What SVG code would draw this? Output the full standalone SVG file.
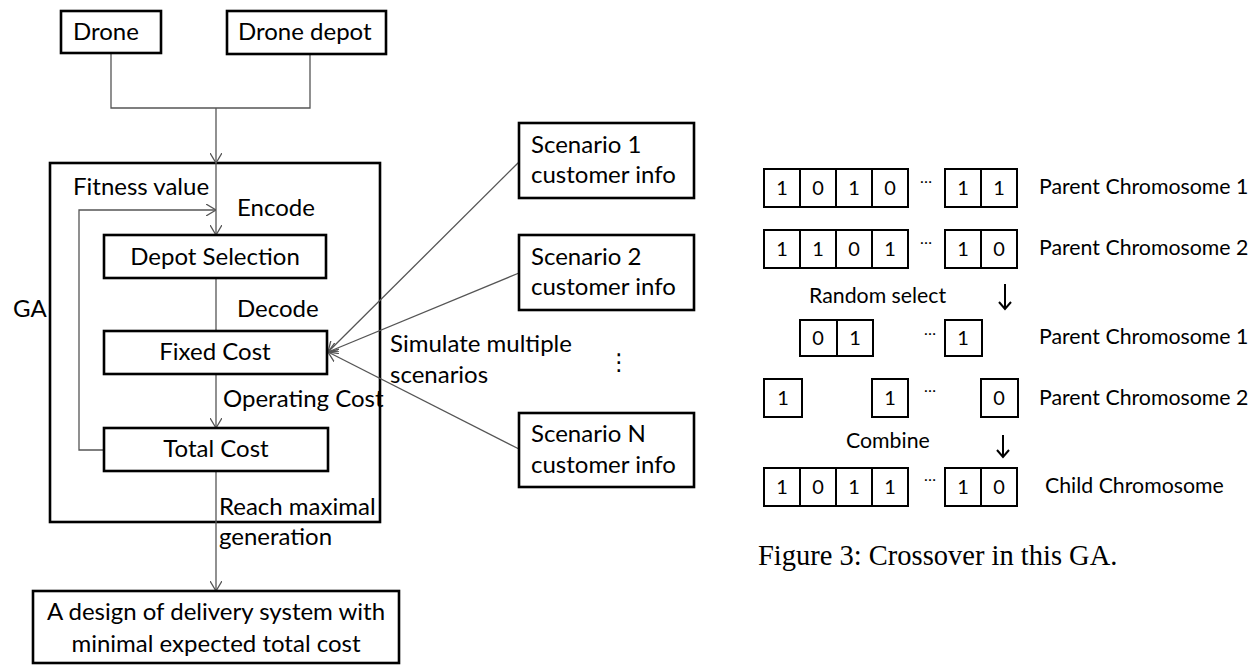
<svg xmlns="http://www.w3.org/2000/svg" width="1254" height="665" viewBox="0 0 1254 665">
  <defs>
    <style>
      .box { fill: #fff; stroke: #000; stroke-width: 2.6; }
      .cell { fill: #fff; stroke: #000; stroke-width: 2; }
      .wire { fill: none; stroke: #555; stroke-width: 1.3; }
      .lbl { font-family: Lato, "Open Sans", sans-serif; font-size: 24px; fill: #000; }
      .mid { text-anchor: middle; }
      .rt { font-family: Lato, "Open Sans", sans-serif; font-size: 21.3px; fill: #000; }
      .bit { font-family: Lato, "Open Sans", sans-serif; font-size: 20px; fill: #000; text-anchor: middle; }
      .dots { font-family: Lato, sans-serif; font-size: 16px; fill: #000; text-anchor: middle; }
      .cap { font-family: "Liberation Serif", serif; font-size: 28.5px; fill: #000; }
      .down { fill: none; stroke: #000; stroke-width: 2; }
    </style>
    <marker id="vhead" markerUnits="userSpaceOnUse" viewBox="0 0 10 12" refX="10" refY="6" markerWidth="10" markerHeight="12" orient="auto">
      <path d="M0,0 L10,6 L0,12" fill="none" stroke="#555" stroke-width="1.3"/>
    </marker>
  </defs>

  <!-- GA container -->
  <g id="ga">
    <rect class="box" x="50" y="163" width="330" height="359" fill="none"/>
    <text class="lbl" x="13" y="317">GA</text>
  </g>

  <!-- connectors -->
  <g id="connectors">
    <path class="wire" d="M111,53 V108 H310 V54"/>
    <path class="wire" d="M216,108 V163" marker-end="url(#vhead)"/>
    <path class="wire" d="M216,163 V235" marker-end="url(#vhead)"/>
    <path class="wire" d="M104,450 H79 V210 H216" marker-end="url(#vhead)"/>
    <path class="wire" d="M216,278 V331"/>
    <path class="wire" d="M216,374 V428" marker-end="url(#vhead)"/>
    <path class="wire" d="M216,471 V591" marker-end="url(#vhead)"/>
    <path class="wire" d="M519,162 L328,352" marker-end="url(#vhead)"/>
    <path class="wire" d="M519,273 L328,352" marker-end="url(#vhead)"/>
    <path class="wire" d="M519,449 L328,352" marker-end="url(#vhead)"/>
  </g>

  <!-- edge labels -->
  <g id="edge-labels">
    <text class="lbl" x="73" y="195">Fitness value</text>
    <text class="lbl" x="237" y="216">Encode</text>
    <text class="lbl" x="237" y="317">Decode</text>
    <text class="lbl" x="223" y="407">Operating Cost</text>
    <text class="lbl" x="219" y="515">Reach maximal</text>
    <text class="lbl" x="219" y="545">generation</text>
    <text class="lbl" x="390" y="352">Simulate multiple</text>
    <text class="lbl" x="390" y="383">scenarios</text>
    <text x="619" y="370" font-family="DejaVu Sans, sans-serif" font-size="23" text-anchor="middle">⋮</text>
  </g>

  <g id="drone">
    <rect class="box" x="61" y="11" width="100" height="42"/>
    <text class="lbl" x="73" y="40">Drone</text>
  </g>
  <g id="drone-depot">
    <rect class="box" x="227" y="11" width="159" height="43"/>
    <text class="lbl" x="238" y="40">Drone depot</text>
  </g>
  <g id="depot-selection">
    <rect class="box" x="104" y="235" width="222" height="43"/>
    <text class="lbl mid" x="215" y="265">Depot Selection</text>
  </g>
  <g id="fixed-cost">
    <rect class="box" x="104" y="331" width="223" height="43"/>
    <text class="lbl mid" x="215" y="360">Fixed Cost</text>
  </g>
  <g id="total-cost">
    <rect class="box" x="104" y="428" width="224" height="43"/>
    <text class="lbl mid" x="216" y="457">Total Cost</text>
  </g>
  <g id="result">
    <rect class="box" x="33" y="591" width="366" height="72"/>
    <text class="lbl mid" x="216" y="620">A design of delivery system with</text>
    <text class="lbl mid" x="216" y="652">minimal expected total cost</text>
  </g>
  <g id="scenario-1">
    <rect class="box" x="519" y="123" width="175" height="75"/>
    <text class="lbl" x="531" y="153">Scenario 1</text>
    <text class="lbl" x="531" y="183">customer info</text>
  </g>
  <g id="scenario-2">
    <rect class="box" x="519" y="235" width="175" height="75"/>
    <text class="lbl" x="531" y="265">Scenario 2</text>
    <text class="lbl" x="531" y="295">customer info</text>
  </g>
  <g id="scenario-n">
    <rect class="box" x="519" y="413" width="175" height="74"/>
    <text class="lbl" x="531" y="442">Scenario N</text>
    <text class="lbl" x="531" y="473">customer info</text>
  </g>

  <!-- crossover illustration -->
  <g id="parent-1">
    <rect class="cell" x="764" y="169" width="36" height="38"/>
    <rect class="cell" x="800" y="169" width="36" height="38"/>
    <rect class="cell" x="836" y="169" width="36" height="38"/>
    <rect class="cell" x="872" y="169" width="36" height="38"/>
    <rect class="cell" x="945" y="169" width="36" height="38"/>
    <rect class="cell" x="981" y="169" width="36" height="38"/>
    <text class="bit" x="782" y="195">1</text>
    <text class="bit" x="818" y="195">0</text>
    <text class="bit" x="854" y="195">1</text>
    <text class="bit" x="890" y="195">0</text>
    <text class="dots" x="926" y="183">…</text>
    <text class="bit" x="963" y="195">1</text>
    <text class="bit" x="999" y="195">1</text>
    <text class="rt" x="1039" y="194">Parent Chromosome 1</text>
  </g>
  <g id="parent-2">
    <rect class="cell" x="764" y="230" width="36" height="38"/>
    <rect class="cell" x="800" y="230" width="36" height="38"/>
    <rect class="cell" x="836" y="230" width="36" height="38"/>
    <rect class="cell" x="872" y="230" width="36" height="38"/>
    <rect class="cell" x="945" y="230" width="36" height="38"/>
    <rect class="cell" x="981" y="230" width="36" height="38"/>
    <text class="bit" x="782" y="256">1</text>
    <text class="bit" x="818" y="256">1</text>
    <text class="bit" x="854" y="256">0</text>
    <text class="bit" x="890" y="256">1</text>
    <text class="dots" x="926" y="244">…</text>
    <text class="bit" x="963" y="256">1</text>
    <text class="bit" x="999" y="256">0</text>
    <text class="rt" x="1039" y="255">Parent Chromosome 2</text>
  </g>
  <g id="random-select">
    <text class="rt" x="809" y="303">Random select</text>
    <path class="down" d="M1005,284 V309 M999,302 L1005,309 L1011,302"/>
  </g>
  <g id="picked-1">
    <rect class="cell" x="800" y="320" width="37" height="36"/>
    <rect class="cell" x="837" y="320" width="36" height="36"/>
    <rect class="cell" x="945" y="320" width="37" height="36"/>
    <text class="bit" x="818" y="345">0</text>
    <text class="bit" x="855" y="345">1</text>
    <text class="dots" x="930" y="335">…</text>
    <text class="bit" x="963" y="345">1</text>
    <text class="rt" x="1039" y="344">Parent Chromosome 1</text>
  </g>
  <g id="picked-2">
    <rect class="cell" x="764" y="379" width="38" height="38"/>
    <rect class="cell" x="872" y="379" width="36" height="38"/>
    <rect class="cell" x="981" y="379" width="37" height="38"/>
    <text class="bit" x="783" y="405">1</text>
    <text class="bit" x="890" y="405">1</text>
    <text class="dots" x="930" y="392">…</text>
    <text class="bit" x="999" y="405">0</text>
    <text class="rt" x="1039" y="405">Parent Chromosome 2</text>
  </g>
  <g id="combine">
    <text class="rt" x="846" y="448">Combine</text>
    <path class="down" d="M1003,435 V457 M997,450 L1003,457 L1009,450"/>
  </g>
  <g id="child">
    <rect class="cell" x="764" y="468" width="36" height="38"/>
    <rect class="cell" x="800" y="468" width="36" height="38"/>
    <rect class="cell" x="836" y="468" width="36" height="38"/>
    <rect class="cell" x="872" y="468" width="36" height="38"/>
    <rect class="cell" x="945" y="468" width="36" height="38"/>
    <rect class="cell" x="981" y="468" width="36" height="38"/>
    <text class="bit" x="782" y="494">1</text>
    <text class="bit" x="818" y="494">0</text>
    <text class="bit" x="854" y="494">1</text>
    <text class="bit" x="890" y="494">1</text>
    <text class="dots" x="930" y="481">…</text>
    <text class="bit" x="963" y="494">1</text>
    <text class="bit" x="999" y="494">0</text>
    <text class="rt" x="1045" y="493">Child Chromosome</text>
  </g>

  <text class="cap" x="758" y="565">Figure 3: Crossover in this GA.</text>
</svg>
